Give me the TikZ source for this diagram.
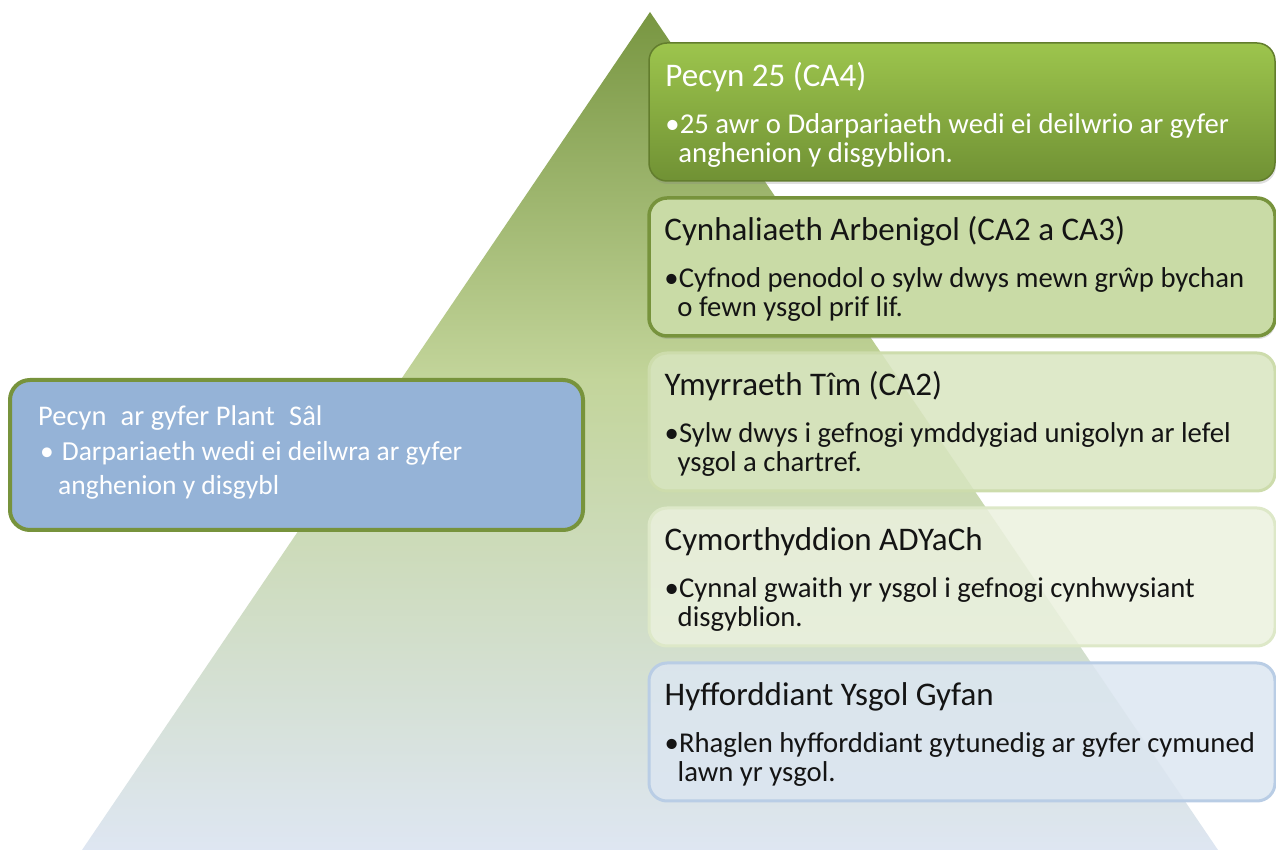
\documentclass[tikz,border=0pt]{standalone}
\usepackage{fontspec}
\setmainfont{Carlito}
\usetikzlibrary{shadows}
\definecolor{ptop}{RGB}{120,150,65}
\definecolor{pmid}{RGB}{195,213,155}
\definecolor{pbot}{RGB}{222,230,242}
\pgfdeclareverticalshading{pyrshade}{100bp}{color(0bp)=(pbot); color(25bp)=(pbot); color(53bp)=(pmid); color(75bp)=(ptop); color(100bp)=(ptop)}
\definecolor{bAtop}{RGB}{157,197,77}
\definecolor{bAbot}{RGB}{112,145,52}
\definecolor{bAline}{RGB}{98,125,45}
\definecolor{bBfill}{RGB}{201,219,166}
\definecolor{bBline}{RGB}{119,147,60}
\definecolor{bCfill}{RGB}{216,229,192}
\definecolor{bCline}{RGB}{205,220,172}
\definecolor{bDfill}{RGB}{235,241,222}
\definecolor{bDline}{RGB}{221,232,200}
\definecolor{bEfill}{RGB}{220,230,241}
\definecolor{bEline}{RGB}{185,205,229}
\definecolor{lfill}{RGB}{149,179,215}
\definecolor{txtdark}{RGB}{20,20,20}
\begin{document}
\begin{tikzpicture}[x=1pt,y=1pt,
  rbox/.style={rectangle, rounded corners=18pt, minimum width=626pt, minimum height=138pt, inner sep=0pt},
  ttl/.style={anchor=base west, inner sep=0pt, font=\fontsize{33}{38}\selectfont},
  bul/.style={anchor=base west, inner sep=0pt, font=\fontsize{28.7}{33}\selectfont},
  ltxt/.style={anchor=base west, inner sep=0pt, font=\fontsize{27.5}{32}\selectfont, text=white},
  softshadow/.style={drop shadow={opacity=0.25, shadow xshift=1pt, shadow yshift=-3pt}}
]
\useasboundingbox (0,0) rectangle (1276,850);
\coordinate (apex) at (650,838);
\coordinate (bl) at (82,0);
\coordinate (br) at (1218,0);
\path[shading=pyrshade] (apex) -- (bl) -- (br) -- cycle;

% left box
\node[rectangle, rounded corners=20pt, minimum width=573pt, minimum height=150pt, inner sep=0pt,
  fill=lfill, draw=bBline, line width=4pt] (lb) at (296.5,395) {};
\node[ltxt, font=\fontsize{28.5}{32}\selectfont] (lt) at ([xshift=30pt,yshift=-48pt]lb.north west) {Pecyn\hspace{0.5em}ar gyfer Plant\hspace{0.5em}Sâl};
\node[ltxt] (ll1) at ([xshift=32pt,yshift=-83pt]lb.north west) {•\hspace{8pt}Darpariaeth wedi ei deilwra ar gyfer};
\node[ltxt] (ll2) at ([xshift=50pt,yshift=-117pt]lb.north west) {anghenion y disgybl};

% right boxes
\node[rbox, draw=bAline, line width=1.5pt, top color=bAtop, bottom color=bAbot, softshadow] (b1) at (962,738) {};
\node[rbox, draw=bBline, line width=3.5pt, fill=bBfill, softshadow] (b2) at (962,583) {};
\node[rbox, draw=bCline, line width=3pt, fill=bCfill, fill opacity=0.85] (b3) at (962,428) {};
\node[rbox, draw=bDline, line width=3pt, fill=bDfill, fill opacity=0.85] (b4) at (962,273) {};
\node[rbox, draw=bEline, line width=3pt, fill=bEfill, fill opacity=0.85] (b5) at (962,118) {};

% texts box 1
\node[ttl, text=white] (t1) at ([xshift=17pt,yshift=-44pt]b1.north west) {Pecyn 25 (CA4)};
\node[bul, text=white] (t1a) at ([xshift=17pt,yshift=-91pt]b1.north west) {•25 awr o Ddarpariaeth wedi ei deilwrio ar gyfer};
\node[bul, text=white] (t1b) at ([xshift=30pt,yshift=-120pt]b1.north west) {anghenion y disgyblion.};
% box 2
\node[ttl, text=txtdark] (t2) at ([xshift=17pt,yshift=-44pt]b2.north west) {Cynhaliaeth Arbenigol (CA2 a CA3)};
\node[bul, text=txtdark] (t2a) at ([xshift=17pt,yshift=-91pt]b2.north west) {•Cyfnod penodol o sylw dwys mewn grŵp bychan};
\node[bul, text=txtdark] (t2b) at ([xshift=30pt,yshift=-120pt]b2.north west) {o fewn ysgol prif lif.};
% box 3
\node[ttl, text=txtdark] (t3) at ([xshift=17pt,yshift=-44pt]b3.north west) {Ymyrraeth Tîm (CA2)};
\node[bul, text=txtdark] (t3a) at ([xshift=17pt,yshift=-91pt]b3.north west) {•Sylw dwys i gefnogi ymddygiad unigolyn ar lefel};
\node[bul, text=txtdark] (t3b) at ([xshift=30pt,yshift=-120pt]b3.north west) {ysgol a chartref.};
% box 4
\node[ttl, text=txtdark] (t4) at ([xshift=17pt,yshift=-44pt]b4.north west) {Cymorthyddion ADYaCh};
\node[bul, text=txtdark] (t4a) at ([xshift=17pt,yshift=-91pt]b4.north west) {•Cynnal gwaith yr ysgol i gefnogi cynhwysiant};
\node[bul, text=txtdark] (t4b) at ([xshift=30pt,yshift=-120pt]b4.north west) {disgyblion.};
% box 5
\node[ttl, text=txtdark] (t5) at ([xshift=17pt,yshift=-44pt]b5.north west) {Hyfforddiant Ysgol Gyfan};
\node[bul, text=txtdark] (t5a) at ([xshift=17pt,yshift=-91pt]b5.north west) {•Rhaglen hyfforddiant gytunedig ar gyfer cymuned};
\node[bul, text=txtdark] (t5b) at ([xshift=30pt,yshift=-120pt]b5.north west) {lawn yr ysgol.};
\end{tikzpicture}
\end{document}
